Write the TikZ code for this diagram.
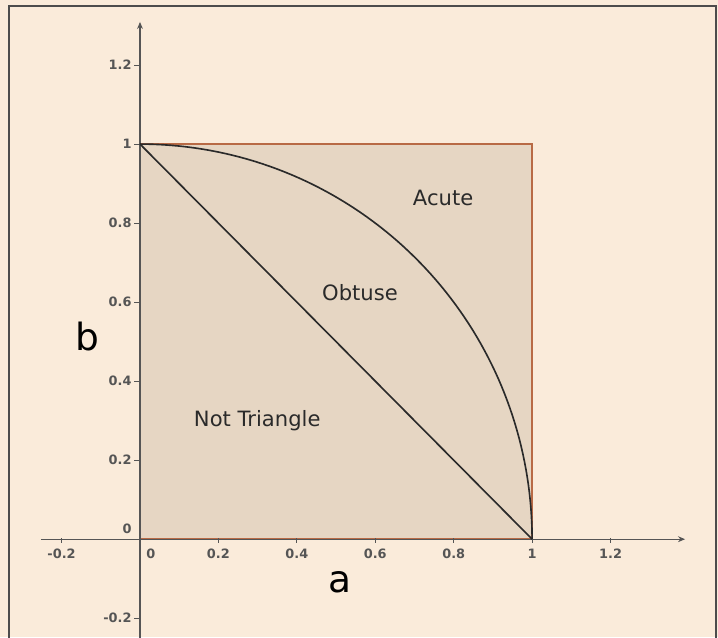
\documentclass[tikz,border=0pt]{standalone}
\usepackage{fontspec}
\setmainfont{DejaVu Sans}
\usetikzlibrary{arrows.meta,positioning}
\definecolor{paper}{HTML}{FAEBDA}
\definecolor{region}{HTML}{E6D6C3}
\definecolor{edge}{HTML}{B86A45}
\definecolor{ink}{HTML}{2A2A2A}

\begin{document}
\begin{tikzpicture}[
    x=11.76cm, y=11.85cm,
    tick/.style={font=\fontsize{11}{12}\selectfont\bfseries, text=ink!80, inner sep=1pt},
    zonelabel/.style={font=\fontsize{18}{20}\selectfont, text=ink},
    axislabel/.style={font=\fontsize{32}{34}\selectfont, text=black},
    axisline/.style={draw=ink!80, line width=0.9pt},
    boundary/.style={draw=ink, line width=1.4pt},
    >={Stealth[length=6pt,width=5pt]}
]
% Page and frame
\fill[paper] (-0.357,-0.248) rectangle (1.474,1.3646);
\useasboundingbox (-0.357,-0.248) rectangle (1.474,1.3646);
\draw[black!70, line width=1.6pt] (-0.334,-0.26) -- (-0.334,1.349) -- (1.469,1.349) -- (1.469,-0.26);

% Unit square
\filldraw[fill=region, draw=edge, line width=1.2pt] (0,0) rectangle (1,1);

% Axes
\coordinate (xstart) at (-0.253,0);
\coordinate (xend) at (1.39,0);
\coordinate (ystart) at (0,-0.26);
\coordinate (yend) at (0,1.309);
\draw[axisline, ->] (xstart) -- (xend);
\draw[axisline, ->] (ystart) -- (yend);

% Ticks
\foreach \v in {-0.2,0.2,0.4,0.6,0.8,1,1.2} {
  \draw[axisline] (\v,-0.009) -- (\v,0.004);
  \draw[axisline] (-0.014,\v) -- (0,\v);
}

% Tick labels
\foreach \v/\t [count=\i] in {-0.2/-0.2,0.2/0.2,0.4/0.4,0.6/0.6,0.8/0.8,1/1,1.2/1.2}
  \node[tick] (xl\i) at (\v,-0.036) {\t};
\node[tick] (xl0) at (0.028,-0.036) {0};
\foreach \v/\t [count=\i] in {-0.2/-0.2,0.2/0.2,0.4/0.4,0.6/0.6,0.8/0.8,1/1,1.2/1.2}
  \node[tick, anchor=east] (yl\i) at (-0.018,\v) {\t};
\node[tick, anchor=east] (yl0) at (-0.018,0.026) {0};

% Boundaries between the zones
\draw[boundary] (0,1) -- (1,0);
\draw[boundary] plot[domain=90:0, samples=80] ({cos(\x)},{sin(\x)});

% Zone and axis labels
\node[zonelabel] (acute) at (0.773,0.864) {Acute};
\node[zonelabel] (obtuse) at (0.561,0.623) {Obtuse};
\node[zonelabel] (nottriangle) at (0.299,0.301) {Not Triangle};
\node[axislabel] (blabel) at (-0.133,0.514) {b};
\node[axislabel] (alabel) at (0.51,-0.11) {a};
\end{tikzpicture}
\end{document}
